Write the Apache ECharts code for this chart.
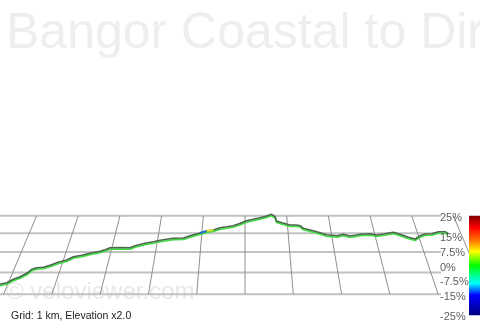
<!DOCTYPE html>
<html>
<head>
<meta charset="utf-8">
<style>html,body{margin:0;padding:0;background:#fff;}#c{width:480px;height:321px;}</style>
<script src="https://cdn.jsdelivr.net/npm/echarts@6/dist/echarts.min.js"></script>
</head>
<body>
<div id="c"></div>
<script>
// ---- data ----
const titleText = 'Bangor Coastal to Dir';
const gridKm = [0, 1, 2, 3, 4, 5, 6, 7, 8, 9, 10];      // grid columns (1 km)
const gridRows = [0, 1, 2, 3, 4];                        // grid depth rows (1 km)
const gradeTicks = [25, 15, 7.5, 0, -7.5, -15, -25];     // gradient legend (%)
const routeKm = [0, 0.15, 0.30, 0.45, 0.60, 0.71, 0.82, 0.97, 1.12, 1.30, 1.49, 1.64, 1.83, 2.01, 2.24, 2.38, 2.46, 2.68, 2.91, 3.02, 3.24, 3.43, 3.58, 3.87, 4.10, 4.25, 4.47, 4.62, 4.77, 4.92, 5.07, 5.21, 5.36, 5.51, 5.66, 5.81, 5.96, 6.07, 6.15, 6.18, 6.30, 6.48, 6.63, 6.71, 6.78, 6.93, 7.08, 7.30, 7.53, 7.67, 7.82, 7.97, 8.05, 8.27, 8.42, 8.57, 8.79, 8.94, 9.13, 9.28, 9.39, 9.50, 9.65, 9.80, 9.95, 10.02];
const routeElev = [5.7, 7.3, 10.7, 13.3, 16.7, 20.7, 22.3, 22.7, 24.7, 27.7, 30, 33.3, 34.7, 36.7, 38.7, 40.7, 42.3, 42.5, 42.3, 44.3, 46.7, 48.3, 49.7, 51.7, 52, 54.3, 57, 59, 60, 62.3, 63.3, 64.3, 66.5, 69.3, 70.7, 72.3, 74, 75.7, 73.3, 69, 67.3, 65, 65, 64.3, 61.7, 60, 58.3, 55.3, 54.3, 55.7, 54, 55, 55.8, 56.3, 55, 56, 57.7, 55.7, 52.7, 51, 54.3, 56, 56.3, 58.3, 58.3, 56.3];

// ---- perspective of the ground grid (view units = pixels) ----
const VX = 245, HY = -278.6, S0 = 41.67, ROW0 = 494.3, DZ = 0.0343;
function project(k, j) {
  const z = 1 - j * DZ;
  return [VX + (k - 5) * S0 / z, HY + ROW0 / z];
}
const colLines = [];
gridKm.forEach(k => {
  colLines.push(project(k, gridRows[0]));
  colLines.push(project(k, gridRows[gridRows.length - 1]));
  colLines.push('-');
});
const rowLines = [];
gridRows.forEach(j => {
  rowLines.push(project(-10, j));
  rowLines.push(project(20, j));
  rowLines.push('-');
});
const route = routeKm.map((k, i) => [k, routeElev[i]]);
const patchBlue = route.slice(26, 28);
const patchYellow = route.slice(27, 29);

const chart = echarts.init(document.getElementById('c'), null, {renderer: 'canvas'});
chart.setOption({
  backgroundColor: '#ffffff',
  animation: false,
  grid: [
    {left: 0, right: 0, top: 0, bottom: 0},
    {left: 0, width: 440, top: 0, bottom: 0},
    {left: 0, right: 0, top: 0, bottom: 0},
    {left: 440, width: 10, top: 218, height: 99}
  ],
  xAxis: [
    {type: 'value', gridIndex: 0, min: 0, max: 480, show: false},
    {type: 'value', gridIndex: 1, min: 0, max: 440, show: false},
    {type: 'value', gridIndex: 2, min: 0, max: 480 / 44.74, show: false},
    {type: 'value', gridIndex: 3, min: 0, max: 1, show: false}
  ],
  yAxis: [
    {type: 'value', gridIndex: 0, min: 0, max: 321, inverse: true, show: false},
    {type: 'value', gridIndex: 1, min: 0, max: 321, inverse: true, show: false},
    {type: 'value', gridIndex: 2, min: -31, max: 290, show: false},
    {type: 'value', gridIndex: 3, min: -25, max: 25, show: false}
  ],
  graphic: [
    {type: 'text', x: 6, y: 34, z: 0, style: {text: titleText, fontSize: 50, fontFamily: '"Liberation Sans", Arial, sans-serif', fill: '#eeeeee', verticalAlign: 'middle'}},
    {type: 'text', x: 6, y: 292, z: 0, style: {text: '\u00a9 veloviewer.com', fontSize: 24, fontFamily: '"Liberation Sans", Arial, sans-serif', fill: '#e8e8e8', verticalAlign: 'middle'}},
    {type: 'text', x: 11, y: 316, z: 10, style: {text: 'Grid: 1 km, Elevation x2.0', fontSize: 10.5, fontFamily: '"Liberation Sans", Arial, sans-serif', fill: '#222222', verticalAlign: 'middle'}},
    {type: 'rect', z: 10, shape: {x: 469, y: 215.7, width: 11, height: 99.5},
      style: {fill: new echarts.graphic.LinearGradient(0, 0, 0, 1, [
        {offset: 0, color: '#7f0000'},
        {offset: 0.12, color: '#ff0000'},
        {offset: 0.26, color: '#ff8000'},
        {offset: 0.36, color: '#ffff00'},
        {offset: 0.5, color: '#00ff00'},
        {offset: 0.68, color: '#00ffff'},
        {offset: 0.8, color: '#0000ff'},
        {offset: 1, color: '#00007f'}
      ])}}
  ],
  series: [
    {type: 'line', xAxisIndex: 1, yAxisIndex: 1, data: rowLines, symbol: 'none', silent: true, z: 2,
      lineStyle: {color: '#c2c2c2', width: 2}},
    {type: 'line', xAxisIndex: 0, yAxisIndex: 0, data: colLines, symbol: 'none', silent: true, z: 3,
      lineStyle: {color: '#8f8f8f', width: 1}},
    {type: 'line', xAxisIndex: 2, yAxisIndex: 2, data: route, symbol: 'none', silent: true, z: 5,
      lineStyle: {color: '#4a664a', width: 1.6, shadowColor: '#3ee03e', shadowOffsetY: 1.5, shadowBlur: 0}},
    {type: 'line', xAxisIndex: 2, yAxisIndex: 2, data: patchBlue, symbol: 'none', silent: true, z: 6,
      lineStyle: {color: '#2a6fd0', width: 2.2}},
    {type: 'line', xAxisIndex: 2, yAxisIndex: 2, data: patchYellow, symbol: 'none', silent: true, z: 6,
      lineStyle: {color: '#d8e020', width: 1.8}},
    {type: 'scatter', xAxisIndex: 3, yAxisIndex: 3, data: gradeTicks.map(v => [0, v]), symbolSize: 0, silent: true, z: 8,
      label: {show: true, position: 'right', distance: 0, formatter: p => p.value[1] + '%',
        fontSize: 11, fontFamily: '"Liberation Sans", Arial, sans-serif', color: '#333333'}}
  ]
});
</script>
</body>
</html>
